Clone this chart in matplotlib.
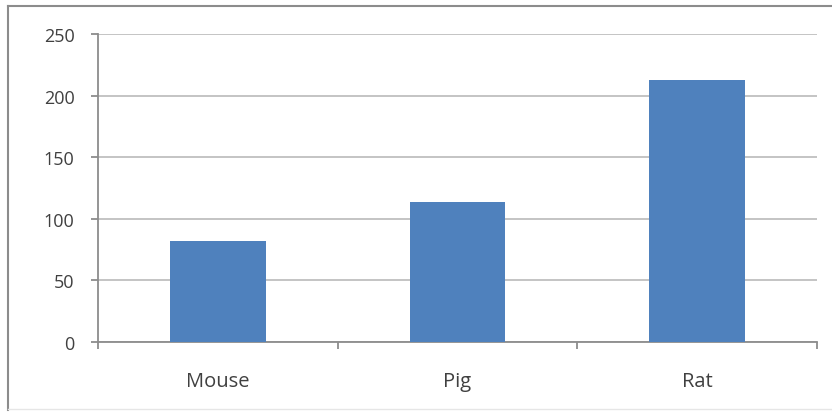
import matplotlib
matplotlib.use("Agg")
import matplotlib.pyplot as plt
from matplotlib.lines import Line2D

categories = ["Mouse", "Pig", "Rat"]
values = [82, 114, 213]
yticks = [0, 50, 100, 150, 200, 250]

W, H = 832, 414
fig = plt.figure(figsize=(W/100, H/100), dpi=100)
plt.rcParams['font.family'] = ['Open Sans', 'DejaVu Sans']

# outer frame (left and top edges visible, faint bottom)
fig.lines.append(Line2D([8/W, 8/W], [1-411/H, 1-7/H], transform=fig.transFigure,
                        color='#8c8c8c', linewidth=1.5))
fig.lines.append(Line2D([8/W, 1.0], [1-7/H, 1-7/H], transform=fig.transFigure,
                        color='#8c8c8c', linewidth=1.5))
fig.lines.append(Line2D([8/W, 1.0], [1-410/H, 1-410/H], transform=fig.transFigure,
                        color='#e6e6e6', linewidth=1.0))

ax = fig.add_axes([98/W, 1-343/H, (817-98)/W, (343-35)/H])
x = list(range(len(categories)))
ax.bar(x, values, width=0.4, color='#4F81BD', zorder=3)
ax.set_xlim(-0.5, len(categories)-0.5)
ax.set_ylim(0, 250)
ax.set_yticks(yticks)
ax.set_yticklabels([str(v) for v in yticks])
ax.set_xticks(x)
ax.set_xticklabels(categories)
ax.set_xticks([i-0.5 for i in range(len(categories)+1)], minor=True)
ax.grid(axis='y', color='#BFBFBF', linewidth=1.3, zorder=0)
for s in ['top', 'right']:
    ax.spines[s].set_visible(False)
for s in ['left', 'bottom']:
    ax.spines[s].set_color('#8c8c8c')
    ax.spines[s].set_linewidth(1.3)
ax.tick_params(axis='y', length=5, width=1.3, color='#8c8c8c', pad=12,
               labelsize=13, labelcolor='#404040')
ax.tick_params(axis='x', which='major', length=0, pad=21, labelsize=14.5, labelcolor='#404040')
ax.tick_params(axis='x', which='minor', length=5, width=1.3, color='#8c8c8c')
fig.savefig("out.png", dpi=100)
